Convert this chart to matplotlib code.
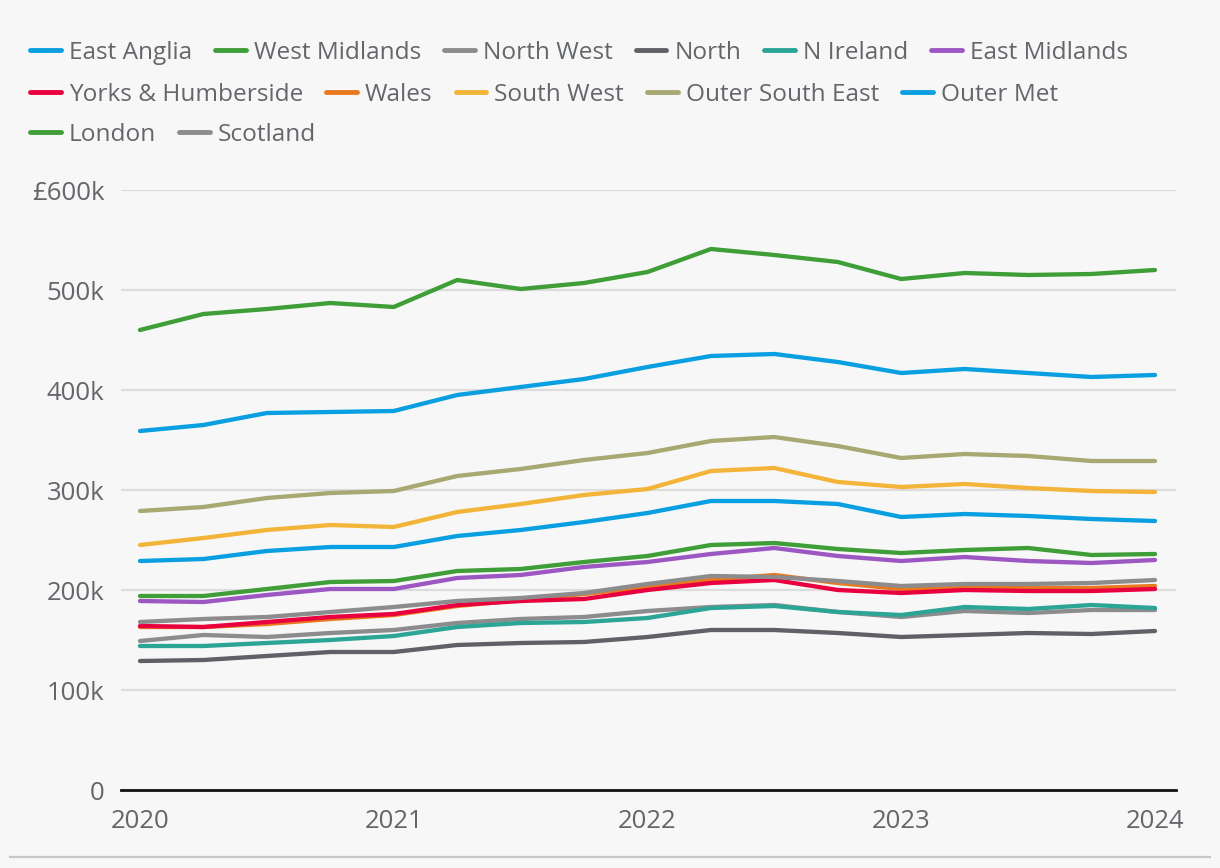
import matplotlib
matplotlib.use("Agg")
import matplotlib.pyplot as plt
from matplotlib.lines import Line2D
import numpy as np

# ---- data (thousands of GBP), quarterly 2020 Q1 .. 2024 Q1 ----
quarters = [2020 + i * 0.25 for i in range(17)]

series_names = ["East Anglia", "West Midlands", "North West", "North", "N Ireland",
                "East Midlands", "Yorks & Humberside", "Wales", "South West",
                "Outer South East", "Outer Met", "London", "Scotland"]

east_anglia = [229, 231, 239, 243, 243, 254, 260, 268, 277, 289, 289, 286, 273, 276, 274, 271, 269]
west_midlands = [194, 194, 201, 208, 209, 219, 221, 228, 234, 245, 247, 241, 237, 240, 242, 235, 236]
north_west = [168, 171, 173, 178, 183, 189, 192, 197, 206, 214, 213, 209, 204, 206, 206, 207, 210]
north = [129, 130, 134, 138, 138, 145, 147, 148, 153, 160, 160, 157, 153, 155, 157, 156, 159]
n_ireland = [144, 144, 147, 150, 154, 163, 167, 168, 172, 182, 184, 178, 175, 183, 181, 185, 182]
east_midlands = [189, 188, 195, 201, 201, 212, 215, 223, 228, 236, 242, 234, 229, 233, 229, 227, 230]
yorks = [164, 163, 168, 173, 176, 185, 189, 191, 200, 207, 210, 200, 197, 200, 199, 199, 201]
wales = [163, 163, 166, 171, 175, 184, 190, 196, 203, 210, 215, 207, 201, 202, 202, 202, 204]
south_west = [245, 252, 260, 265, 263, 278, 286, 295, 301, 319, 322, 308, 303, 306, 302, 299, 298]
outer_south_east = [279, 283, 292, 297, 299, 314, 321, 330, 337, 349, 353, 344, 332, 336, 334, 329, 329]
outer_met = [359, 365, 377, 378, 379, 395, 403, 411, 423, 434, 436, 428, 417, 421, 417, 413, 415]
london = [460, 476, 481, 487, 483, 510, 501, 507, 518, 541, 535, 528, 511, 517, 515, 516, 520]
scotland = [149, 155, 153, 157, 160, 167, 171, 173, 179, 183, 185, 178, 173, 179, 177, 180, 180]

values = [east_anglia, west_midlands, north_west, north, n_ireland, east_midlands,
          yorks, wales, south_west, outer_south_east, outer_met, london, scotland]

colors = ["#0a9fe0", "#3f9e37", "#8c8c8e", "#5f6166", "#2ca597", "#9d57c2",
          "#e8003f", "#e8791e", "#f3b43a", "#a8a872", "#0a9fe0", "#3f9e37", "#8c8c8e"]

yticks = [0, 100, 200, 300, 400, 500, 600]
ytick_labels = ["0", "100k", "200k", "300k", "400k", "500k", "£600k"]
xticks = [2020, 2021, 2022, 2023, 2024]
xtick_labels = ["2020", "2021", "2022", "2023", "2024"]

# ---- style ----
plt.rcParams['font.family'] = ['Open Sans', 'DejaVu Sans']
bg = "#f7f7f7"
text_col = "#63666a"

fig = plt.figure(figsize=(12.2, 8.68), dpi=100, facecolor=bg)
ax = fig.add_axes([121 / 1220, 1 - 790 / 868, (1176 - 121) / 1220, (790 - 190) / 868])
ax.set_facecolor(bg)

n = len(series_names)
for i, (name, vals, c) in enumerate(zip(series_names, values, colors)):
    ax.plot(quarters, [v * 1000 for v in vals], color=c, lw=3.1,
            solid_capstyle='round', solid_joinstyle='round',
            zorder=10 + n - i, label=name, clip_on=False)

ax.set_xlim(2020 - 19 / 253.75, 2024 + 21 / 253.75)
ax.set_ylim(0, 600000)
ax.set_yticks([v * 1000 for v in yticks])
ax.set_yticklabels(ytick_labels)
ax.set_xticks(xticks)
ax.set_xticklabels(xtick_labels)
ax.yaxis.grid(True, color="#dcdcdc", lw=1.6)
ax.set_axisbelow(True)
for s in ["top", "right", "left"]:
    ax.spines[s].set_visible(False)
ax.spines["bottom"].set_color("#111111")
ax.spines["bottom"].set_linewidth(2.0)
ax.spines["bottom"].set_zorder(5)
ax.tick_params(axis='both', length=0, labelsize=18.5, colors=text_col)
ax.tick_params(axis='y', pad=12)
ax.tick_params(axis='x', pad=14)

# ---- legend: three flowing rows ----
rows = [(0, 6, 53), (6, 11, 95), (11, 13, 135)]
fs = 17.6
for a, b, ypix in rows:
    hs = [Line2D([0], [0], color=colors[k], lw=3.5, solid_capstyle='round') for k in range(a, b)]
    leg = fig.legend(hs, series_names[a:b], loc='center left',
                     bbox_to_anchor=(30 / 1220, 1 - ypix / 868), ncol=b - a,
                     frameon=False, fontsize=fs, handlelength=1.25, handletextpad=0.33,
                     columnspacing=0.95, borderpad=0, borderaxespad=0)
    for t in leg.get_texts():
        t.set_color(text_col)

# bottom separator
fig.add_artist(Line2D([10 / 1220, 1210 / 1220], [1 - 857 / 868] * 2,
                      color="#c8c8c8", lw=1.6, transform=fig.transFigure))

fig.savefig("out.png", dpi=100, facecolor=bg)
